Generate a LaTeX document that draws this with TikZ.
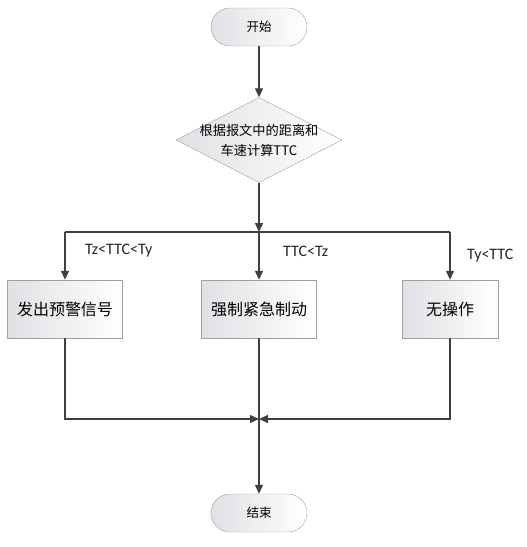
\documentclass[tikz,border=0pt]{standalone}
\usepackage{fontspec}
\setmainfont{Carlito}
\newfontfamily\cjk{Noto Sans CJK SC}
\usepackage{tikz}
\usetikzlibrary{shapes.geometric,arrows.meta}

\begin{document}
\begin{tikzpicture}[x=1pt,y=-1pt,
    terminal/.style={draw=gray!75, rounded corners=19pt, minimum width=96pt, minimum height=38pt,
        left color=blue!8!gray!22, right color=white, font=\cjk\fontsize{12.5}{14}\selectfont},
    decision/.style={diamond, draw=gray!75, aspect=2, inner sep=-8pt, minimum width=166pt, minimum height=85pt,
        left color=blue!8!gray!22, right color=white, align=center, font=\cjk\fontsize{13.2}{20}\selectfont},
    process/.style={draw=gray!75, minimum width=115pt, minimum height=58pt,
        left color=blue!8!gray!22, right color=white, font=\cjk\fontsize{16}{18}\selectfont},
    cond/.style={anchor=west, inner sep=0pt, text=black!85, font=\fontsize{16}{18}\selectfont},
    link/.style={draw=black!75, line width=1.3pt},
    flow/.style={link, -{Triangle[length=9pt,width=8pt]}}]
                    \useasboundingbox (0,0) rectangle (527,547);
                    % Nodes
                    \node[terminal] (start) at (259,27) {开始};
                    \node[decision] (calc) at (259,140) {根据报文中的距离和\\车速计算TTC};
                    \coordinate (split) at (259,232);
                    \node[process] (warn) at (65,309) {发出预警信号};
                    \node[process] (brake) at (259,309) {强制紧急制动};
                    \node[process, minimum width=96pt] (none) at (450,309) {无操作};
                    \coordinate (merge) at (259,419);
                    \node[terminal] (stop) at (259,513) {结束};
                    \coordinate (splitL) at (split -| warn);
                    \coordinate (splitR) at (split -| none);
                    % Labels
                    \node[cond] (lblL) at (85,251) {Tz<TTC<Ty};
                    \node[cond] (lblM) at (283,251) {TTC<Tz};
                    \node[cond] (lblR) at (467,256) {Ty<TTC};
                    % Edges
                    \draw[flow] (start) -- (calc);
                    \draw[flow] (calc) -- (split);
                    \draw[link] (splitL) -- (splitR);
                    \draw[flow] (splitL) -- (warn);
                    \draw[flow] (split) -- (brake);
                    \draw[flow] (splitR) -- (none);
                    \draw[flow] (warn) |- (merge);
                    \draw[flow] (none) |- (merge);
                    \draw[flow] (brake) -- (stop);
                \end{tikzpicture}
\end{document}
